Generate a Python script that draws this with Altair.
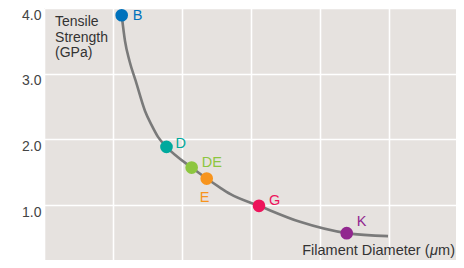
import altair as alt
import pandas as pd

# Data (x in grid units of filament diameter, y in GPa)
materials = ["B", "D", "DE", "E", "G", "K"]
diameter = [1.126, 1.775, 2.14, 2.358, 3.116, 4.387]
strength = [3.89, 1.886, 1.571, 1.404, 0.989, 0.573]
colors = ["#0072BC", "#00A99D", "#8DC63F", "#F7941D", "#ED145B", "#92278F"]

curve_x = [1.126, 1.174, 1.239, 1.329, 1.464, 1.565, 1.652, 1.775, 2.14, 2.358, 2.551, 2.696, 3.116, 3.710, 4.387, 4.986]
curve_y = [3.89, 3.498, 3.194, 2.890, 2.433, 2.205, 2.038, 1.886, 1.571, 1.404, 1.267, 1.171, 0.989, 0.745, 0.573, 0.528]

y_ticks = [0, 1, 2, 3, 4]
x_grid = [0, 1, 2, 3, 4, 5, 6]

pts = pd.DataFrame({"m": materials, "x": diameter, "y": strength})
curve = pd.DataFrame({"x": curve_x, "y": curve_y, "o": list(range(len(curve_x)))})

FONT = "Liberation Sans"
PX_X = 69.0   # pixels per x unit
PX_Y = 65.7   # pixels per GPa
PLOT_W = 412
PLOT_H = 252
xs = alt.Scale(domain=[0, PLOT_W / PX_X], nice=False, zero=False)
ys = alt.Scale(domain=[4 - PLOT_H / PX_Y, 4], nice=False, zero=False)

xaxis = alt.Axis(values=x_grid, labels=False, ticks=False, domain=False, title="",
                 grid=True, gridColor="white", gridWidth=1.6)
yaxis = alt.Axis(values=y_ticks, format=".1f", ticks=False, domain=False, title="",
                 grid=True, gridColor="white", gridWidth=1.6,
                 labelBaseline="top", labelPadding=3, labelFontSize=14,
                 labelColor="#444", labelFont=FONT)

line = alt.Chart(curve).mark_line(color="#7a7a7a", strokeWidth=2.6, interpolate="monotone").encode(
    x=alt.X("x:Q", scale=xs, axis=xaxis),
    y=alt.Y("y:Q", scale=ys, axis=yaxis),
    order="o:Q",
)

cscale = alt.Scale(domain=materials, range=colors)
points = alt.Chart(pts).mark_circle(size=160, opacity=1).encode(
    x=alt.X("x:Q", scale=xs),
    y=alt.Y("y:Q", scale=ys),
    color=alt.Color("m:N", scale=cscale, legend=None),
)

label_style = {
    "B": dict(dx=11, dy=1, align="left"),
    "D": dict(dx=9, dy=-3, align="left"),
    "DE": dict(dx=10, dy=-5, align="left"),
    "E": dict(dx=-2, dy=19, align="center"),
    "G": dict(dx=10, dy=-5, align="left"),
    "K": dict(dx=10, dy=-11, align="left"),
}
labels = []
for m in materials:
    s = label_style[m]
    labels.append(
        alt.Chart(pts).transform_filter(alt.datum.m == m).mark_text(
            font=FONT, fontSize=14.5, baseline="middle", **s
        ).encode(
            x=alt.X("x:Q", scale=xs), y=alt.Y("y:Q", scale=ys), text="m:N",
            color=alt.Color("m:N", scale=cscale, legend=None),
        )
    )

ann = pd.DataFrame({"x": [0.16], "y": [3.89], "t": ["Tensile\nStrength\n(GPa)"]})
ytitle = alt.Chart(ann).mark_text(font=FONT, fontSize=14, align="left", baseline="top",
                                  lineBreak="\n", lineHeight=15.5, color="#333").encode(
    x=alt.X("x:Q", scale=xs), y=alt.Y("y:Q", scale=ys), text="t:N")

xt = pd.DataFrame({"x": [5.957], "y": [0.30]})
xt_parts = [
    ("Filament Diameter (", -25.5, "normal"),
    ("\u03bc", -17, "italic"),
    ("m)", 0, "normal"),
]
xtitle = []
for txt, dx, style in xt_parts:
    xtitle.append(
        alt.Chart(xt).mark_text(font=FONT, fontSize=14.5, align="right", baseline="middle",
                                dx=dx, fontStyle=style, color="#333", text=txt).encode(
            x=alt.X("x:Q", scale=xs), y=alt.Y("y:Q", scale=ys))
    )

chart = alt.layer(line, points, *labels, ytitle, *xtitle).properties(
    width=PLOT_W, height=PLOT_H,
    padding={"left": 36, "top": 0, "right": 0, "bottom": 0},
    autosize=alt.AutoSizeParams(type="none"),
).configure_view(fill="#E6E2DF", strokeWidth=0)

chart.save("out.html", embed_options={"renderer": "svg", "actions": False})
